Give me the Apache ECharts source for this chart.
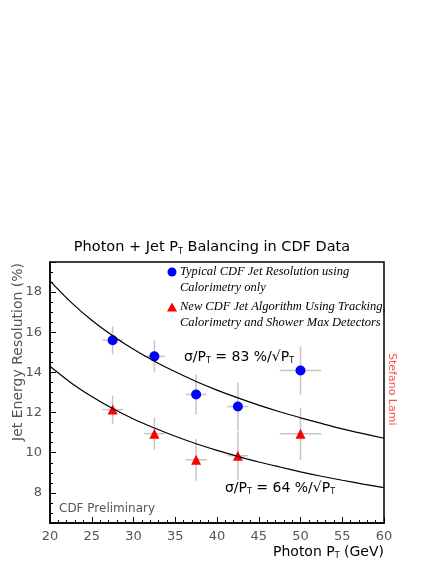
<!DOCTYPE html>
<html>
<head>
<meta charset="utf-8">
<script src="https://cdn.jsdelivr.net/npm/echarts@6/dist/echarts.min.js"></script>
<style>
  html, body { margin: 0; padding: 0; background: #fff; }
  #chart { width: 437px; height: 565px; }
</style>
</head>
<body>
<div id="chart"></div>
<script>
// photon pt bins and their half widths
const ptBins = [27.5, 32.5, 37.5, 42.5, 50];
const ptErr = [1.25, 1.25, 1.25, 1.25, 2.5];
// typical CDF jet resolution (calorimetry only)
const caloRes = [15.6, 14.8, 12.9, 12.3, 14.1];
const caloErr = [0.7, 0.8, 1.0, 1.2, 1.2];
// new algorithm (tracking + calorimetry + shower max)
const trackRes = [12.15, 10.95, 9.65, 9.85, 10.95];
const trackErr = [0.7, 0.8, 1.05, 1.2, 1.3];
// the two curves
const fitPt = [20, 22.5, 25, 27.5, 30, 32.5, 35, 37.5, 40, 42.5, 45, 47.5, 50, 52.5, 55, 57.5, 60];
const fit83 = [18.56, 17.5, 16.6, 15.83, 15.15, 14.56, 14.03, 13.55, 13.12, 12.73, 12.37, 12.04, 11.74, 11.46, 11.19, 10.95, 10.72];
const fit64 = [14.31, 13.49, 12.8, 12.2, 11.68, 11.23, 10.82, 10.45, 10.12, 9.82, 9.54, 9.29, 9.05, 8.83, 8.63, 8.44, 8.26];

let myChart = echarts.init(document.getElementById('chart'));

const grey = '#555';
const sans = 'DejaVu Sans';
const richT = {
  n: { fontFamily: sans, fontSize: 14, color: grey, lineHeight: 16 },
  s: { fontFamily: sans, fontSize: 8, color: grey, lineHeight: 8, verticalAlign: 'bottom' }
};
const richTitle = {
  n: { fontFamily: sans, fontSize: 14.5, color: grey, lineHeight: 17 },
  s: { fontFamily: sans, fontSize: 8, color: grey, lineHeight: 8, verticalAlign: 'bottom' }
};

function errBars(params, api) {
  let x = api.value(0), y = api.value(1), dx = api.value(2), dy = api.value(3);
  let l = api.coord([x - dx, y]), r = api.coord([x + dx, y]);
  let b = api.coord([x, y - dy]), t = api.coord([x, y + dy]);
  let st = { stroke: '#c6c6c6', lineWidth: 1.5 };
  return {
    type: 'group',
    children: [
      { type: 'line', shape: { x1: l[0], y1: l[1], x2: r[0], y2: r[1] }, style: st },
      { type: 'line', shape: { x1: b[0], y1: b[1], x2: t[0], y2: t[1] }, style: st }
    ]
  };
}

let option = {
  animation: false,
  grid: { left: 50, right: 53, top: 262, bottom: 42, show: true, borderColor: '#000', borderWidth: 1.5 },
  xAxis: {
    type: 'value', min: 20, max: 60, interval: 5,
    axisLine: { lineStyle: { color: '#000', width: 1.5 } },
    axisTick: { inside: true, length: 6, lineStyle: { color: '#000' } },
    minorTick: { show: true, splitNumber: 5, length: 3, lineStyle: { color: '#000' } },
    splitLine: { show: false },
    axisLabel: { fontFamily: sans, fontSize: 13, color: grey, margin: 7 }
  },
  yAxis: [
    {
      type: 'value', min: 6.5, max: 19.5, interval: 0.5,
      axisLine: { show: true, lineStyle: { color: '#000', width: 1.5 } },
      axisTick: { inside: true, length: 3, lineStyle: { color: '#000' } },
      splitLine: { show: false },
      axisLabel: {
        fontFamily: sans, fontSize: 13, color: grey, margin: 8,
        formatter: function (v) { return v % 2 === 0 ? String(v) : ''; }
      }
    },
    {
      // longer ticks at the labelled values
      type: 'value', min: 6.5, max: 19.5, splitNumber: 6, position: 'left',
      axisLine: { show: false },
      axisTick: { show: true, inside: true, length: 6, lineStyle: { color: '#000' } },
      axisLabel: { show: false },
      splitLine: { show: false }
    }
  ],
  series: [
    {
      type: 'line', smooth: 0.3, showSymbol: false, silent: true,
      lineStyle: { color: '#000', width: 1.2 },
      data: fitPt.map((x, i) => [x, fit83[i]])
    },
    {
      type: 'line', smooth: 0.3, showSymbol: false, silent: true,
      lineStyle: { color: '#000', width: 1.2 },
      data: fitPt.map((x, i) => [x, fit64[i]])
    },
    {
      type: 'custom', renderItem: errBars, encode: { x: 0, y: 1 },
      data: ptBins.map((x, i) => [x, caloRes[i], ptErr[i], caloErr[i]])
    },
    {
      type: 'custom', renderItem: errBars, encode: { x: 0, y: 1 },
      data: ptBins.map((x, i) => [x, trackRes[i], ptErr[i], trackErr[i]])
    },
    {
      type: 'scatter', symbol: 'circle', symbolSize: 10,
      itemStyle: { color: '#0000ff', opacity: 1 },
      data: ptBins.map((x, i) => [x, caloRes[i]])
    },
    {
      type: 'scatter', symbol: 'triangle', symbolSize: 10,
      itemStyle: { color: '#ff0000', opacity: 1 },
      data: ptBins.map((x, i) => [x, trackRes[i]])
    }
  ],
  graphic: [
    // title
    { type: 'text', x: 212, y: 247, style: {
        text: '{n|Photon + Jet P}{s|T}{n| Balancing in CDF Data}', rich: richTitle,
        align: 'center', verticalAlign: 'middle' } },
    // axis titles
    { type: 'text', x: 18, y: 263, rotation: Math.PI / 2, style: {
        text: 'Jet Energy Resolution (%)', fontFamily: sans, fontSize: 14, fill: grey,
        align: 'right', verticalAlign: 'middle' } },
    { type: 'text', x: 384, y: 552, style: {
        text: '{n|Photon P}{s|T}{n| (GeV)}', rich: richT,
        align: 'right', verticalAlign: 'middle' } },
    // legend
    { type: 'circle', shape: { cx: 172, cy: 272, r: 4.5 }, style: { fill: '#0000ff' } },
    { type: 'text', x: 180, y: 272, style: {
        text: 'Typical CDF Jet Resolution using\nCalorimetry only', fontFamily: 'Liberation Serif',
        fontStyle: 'italic', fontSize: 12.5, lineHeight: 16, fill: '#000', verticalAlign: 'top', y: -8 } },
    { type: 'polygon', shape: { points: [[172, 302.5], [167, 311.5], [177, 311.5]] }, style: { fill: '#ff0000' } },
    { type: 'text', x: 180, y: 307, style: {
        text: 'New CDF Jet Algorithm Using Tracking,\nCalorimetry and Shower Max Detectors', fontFamily: 'Liberation Serif',
        fontStyle: 'italic', fontSize: 12.5, lineHeight: 16, fill: '#000', verticalAlign: 'top', y: -8 } },
    // curve labels
    { type: 'text', x: 184, y: 357, style: {
        text: '{n|σ/P}{s|T}{n| = 83 %/√P}{s|T}', rich: richT, align: 'left', verticalAlign: 'middle' } },
    { type: 'text', x: 225, y: 488, style: {
        text: '{n|σ/P}{s|T}{n| = 64 %/√P}{s|T}', rich: richT, align: 'left', verticalAlign: 'middle' } },
    { type: 'text', x: 59, y: 509, style: {
        text: 'CDF Preliminary', fontFamily: sans, fontSize: 12, fill: grey,
        align: 'left', verticalAlign: 'middle' } },
    { type: 'text', x: 392, y: 353, rotation: -Math.PI / 2, style: {
        text: 'Stefano Lami', fontFamily: sans, fontSize: 11, fill: '#ff4d4d',
        align: 'left', verticalAlign: 'middle' } }
  ]
};

myChart.setOption(option);
</script>
</body>
</html>
